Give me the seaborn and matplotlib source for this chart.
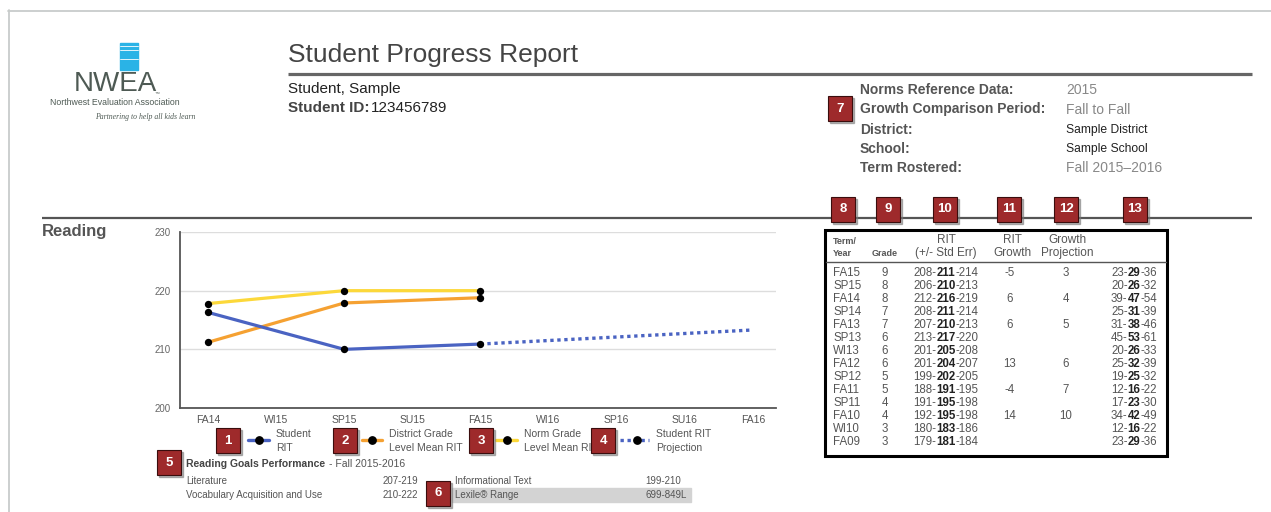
import pandas as pd
import matplotlib
matplotlib.use('Agg')
import matplotlib.pyplot as plt
from matplotlib.patches import Rectangle
import seaborn as sns

#chart data
terms = ['FA14', 'WI15', 'SP15', 'SU15', 'FA15', 'WI16', 'SP16', 'SU16', 'FA16']
tested_terms = ['FA14', 'SP15', 'FA15']
student_rit = [216.3, 210.0, 210.9]
district_mean_rit = [211.2, 217.9, 218.8]
norm_mean_rit = [217.8, 220.0, 220.0]
projection_terms = ['FA15', 'FA16']
projection_rit = [210.9, 213.3]
y_ticks = [200, 210, 220, 230]

#table data
table_terms = ['FA15', 'SP15', 'FA14', 'SP14', 'FA13', 'SP13', 'WI13', 'FA12', 'SP12', 'FA11', 'SP11', 'FA10', 'WI10', 'FA09']
table_grades = [9, 8, 8, 7, 7, 6, 6, 6, 5, 5, 4, 4, 3, 3]
rit_low = [208, 206, 212, 208, 207, 213, 201, 201, 199, 188, 191, 192, 180, 179]
rit_mid = [211, 210, 216, 211, 210, 217, 205, 204, 202, 191, 195, 195, 183, 181]
rit_high = [214, 213, 219, 214, 213, 220, 208, 207, 205, 195, 198, 198, 186, 184]
rit_growth = ['-5', '', '6', '', '6', '', '', '13', '', '-4', '', '14', '', '']
growth_projection = ['3', '', '4', '', '5', '', '', '6', '', '7', '', '10', '', '']
pct_low = [23, 20, 39, 25, 31, 45, 20, 25, 19, 12, 17, 34, 12, 23]
pct_mid = [29, 26, 47, 31, 38, 53, 26, 32, 25, 16, 23, 42, 16, 29]
pct_high = [36, 32, 54, 39, 46, 61, 33, 39, 32, 22, 30, 49, 22, 36]

#header info
info_labels = ['Norms Reference Data:', 'Growth Comparison Period:', 'District:', 'School:', 'Term Rostered:']
info_values = ['2015', 'Fall to Fall', 'Sample District', 'Sample School', 'Fall 2015\u20132016']

#goals
goal_names = ['Literature', 'Vocabulary Acquisition and Use', 'Informational Text', 'Lexile\u00ae Range']
goal_ranges = ['207-219', '210-222', '199-210', '699-849L']

blue = '#4a63c2'
orange = '#f5a132'
yellow = '#fcd83a'

sns.set_style('white')
plt.rcParams['font.family'] = ['Liberation Sans', 'DejaVu Sans']

W, H = 1271, 512
fig = plt.figure(figsize=(W / 100, H / 100), dpi=100)

#line chart
ax = fig.add_axes([180 / W, 1 - 408 / H, 596 / W, 176 / H])
pos = {t: i for i, t in enumerate(terms)}
df = pd.DataFrame({
    'pos': [pos[t] for t in tested_terms] * 3,
    'rit': norm_mean_rit + district_mean_rit + student_rit,
    'series': ['norm'] * 3 + ['district'] * 3 + ['student'] * 3,
})
proj = pd.DataFrame({'pos': [pos[t] for t in projection_terms], 'rit': projection_rit})

sns.lineplot(data=proj, x='pos', y='rit', color=blue, linewidth=2.4,
             linestyle=(0, (1, 1.1)), ax=ax)
sns.lineplot(data=df, x='pos', y='rit', hue='series', linewidth=2.3,
             palette={'norm': yellow, 'district': orange, 'student': blue},
             legend=False, ax=ax)
sns.scatterplot(data=df, x='pos', y='rit', color='black', s=28, linewidth=0,
                zorder=5, ax=ax)

ax.set_xlim(-0.41, 8.34)
ax.set_ylim(200, 230)
ax.set_xticks(range(len(terms)))
ax.set_xticklabels(terms)
ax.set_yticks(y_ticks)
ax.set_xlabel('')
ax.set_ylabel('')
ax.yaxis.grid(True, color='#dddddd', linewidth=1)
ax.set_axisbelow(True)
for s in ['top', 'right']:
    ax.spines[s].set_visible(False)
for s in ['left', 'bottom']:
    ax.spines[s].set_color('#555555')
    ax.spines[s].set_linewidth(1.3)
ax.tick_params(axis='y', length=3, width=0.8, color='#999999', pad=4,
               labelsize=7, labelcolor='#666666')
ax.tick_params(axis='x', length=0, pad=5, labelsize=7.5, labelcolor='#555555')

#page overlay in pixel coordinates
ov = fig.add_axes([0, 0, 1, 1], zorder=5)
ov.set_xlim(0, W)
ov.set_ylim(H, 0)
ov.axis('off')

renderer = fig.canvas.get_renderer()

def text_w(s, **kw):
    t = ov.text(0, 0, s, **kw)
    w = t.get_window_extent(renderer=renderer).width
    t.remove()
    return w

#page border and rules
ov.plot([8, W], [10.5, 10.5], color='#c8cccb', lw=1.3)
ov.plot([8.5, 8.5], [10, H], color='#c8cccb', lw=1.3)
ov.plot([288, 1252], [74, 74], color='#666666', lw=2.3, solid_capstyle='butt')
ov.plot([42, 1252], [217.5, 217.5], color='#555555', lw=1.6, solid_capstyle='butt')

#logo
ov.add_patch(Rectangle((120, 43), 18, 27, color='#2ab3e6'))
for yy in [46, 49.5, 59]:
    ov.plot([120, 138], [yy, yy], color='white', lw=0.6)
ov.text(115, 84, 'NWEA', fontsize=20, color='#4e5a54', ha='center', va='center')
ov.text(155, 93, '\u2122', fontsize=3.5, color='#4e5a54', ha='left', va='center')
ov.text(115, 102.5, 'Northwest Evaluation Association', fontsize=6.3, color='#4e5a54',
        ha='center', va='center')
ov.text(145, 117, 'Partnering to help all kids learn', fontsize=5.6, color='#4e5a54',
        ha='center', va='center', family='Liberation Serif', style='italic')

#title block
ov.text(288, 55, 'Student Progress Report', fontsize=19, color='#444444', va='center')
ov.text(288, 88.5, 'Student, Sample', fontsize=11, color='#222222', va='center')
ov.text(288, 107.5, 'Student ID:', fontsize=11, color='#444444', weight='bold', va='center')
ov.text(371, 107.5, '123456789', fontsize=11, color='#222222', va='center')

info_y = [89.5, 109.5, 129.5, 149, 168.5]
for lab, val, yy in zip(info_labels, info_values, info_y):
    ov.text(860, yy, lab, fontsize=10, color='#555555', weight='bold', va='center')
    if val.startswith('Sample'):
        ov.text(1066, yy, val, fontsize=8.7, color='#222222', va='center')
    else:
        ov.text(1066, yy, val, fontsize=10, color='#888888', va='center')

ov.text(42, 231.5, 'Reading', fontsize=12, color='#555555', weight='bold', va='center')

#legend
leg_items = [(248, 269, blue, '-', 'Student\nRIT'),
             (362, 382, orange, '-', 'District Grade\nLevel Mean RIT'),
             (496, 517, yellow, '-', 'Norm Grade\nLevel Mean RIT'),
             (620, 649, blue, ':', 'Student RIT\nProjection')]
for x0, x1, c, ls, lab in leg_items:
    ov.plot([x0, x1], [440, 440], color=c, lw=2.4, linestyle=ls if ls == '-' else (0, (1, 1.1)))
    ov.scatter([(x0 + x1) / 2 + (2 if ls == ':' else 0)], [440], s=28, color='black', zorder=4)
    ov.text(x1 + 7, 441, lab, fontsize=7.5, color='#555555', va='center', linespacing=1.45)

#goals block
ov.text(186, 464, 'Reading Goals Performance', fontsize=7.5, color='#444444',
        weight='bold', va='center')
ov.text(329, 464, '- Fall 2015-2016', fontsize=7.5, color='#555555', va='center')
ov.add_patch(Rectangle((452, 487.5), 239, 14, color='#d3d3d3', zorder=0))
goal_xy = [(186, 383, 481.5), (186, 383, 494.5), (455, 645, 481.5), (455, 645, 494.5)]
for name, rng, (xn, xr, yy) in zip(goal_names, goal_ranges, goal_xy):
    ov.text(xn, yy, name, fontsize=7, color='#555555', va='center')
    ov.text(xr, yy, rng, fontsize=7, color='#555555', va='center')

#table
ov.add_patch(Rectangle((825, 229.5), 342, 226, fill=False, edgecolor='black', lw=2.2))
ov.plot([826, 1166], [262, 262], color='#555555', lw=1)
hd = dict(color='#555555', va='center', ha='center')
ov.text(833, 241.5, 'Term/', fontsize=6.5, weight='bold', color='#555555', va='center')
ov.text(833, 254, 'Year', fontsize=6.5, weight='bold', color='#555555', va='center')
ov.text(885, 254, 'Grade', fontsize=6.5, weight='bold', **hd)
ov.text(946, 240, 'RIT', fontsize=8.5, **hd)
ov.text(946, 253, '(+/- Std Err)', fontsize=8.5, **hd)
ov.text(1012, 240, 'RIT', fontsize=8.5, **hd)
ov.text(1012, 253, 'Growth', fontsize=8.5, **hd)
ov.text(1067, 240, 'Growth', fontsize=8.5, **hd)
ov.text(1067, 253, 'Projection', fontsize=8.5, **hd)

reg = dict(fontsize=8.3, color='#555555', va='center')
bld = dict(fontsize=8.3, color='#222222', va='center', weight='bold')
for i in range(len(table_terms)):
    yy = 273 + i * 13
    ov.text(833, yy, table_terms[i], ha='left', **reg)
    ov.text(885, yy, str(table_grades[i]), ha='center', **reg)
    mid = str(rit_mid[i])
    wm = text_w(mid, **bld)
    ov.text(946, yy, mid, ha='center', **bld)
    ov.text(946 - wm / 2, yy, '%d-' % rit_low[i], ha='right', **reg)
    ov.text(946 + wm / 2, yy, '-%d' % rit_high[i], ha='left', **reg)
    ov.text(1010, yy, rit_growth[i], ha='center', **reg)
    ov.text(1066, yy, growth_projection[i], ha='center', **reg)
    hi = '-%d' % pct_high[i]
    wr = text_w(hi, **reg)
    pm = str(pct_mid[i])
    wp = text_w(pm, **bld)
    ov.text(1157, yy, hi, ha='right', **reg)
    ov.text(1157 - wr, yy, pm, ha='right', **bld)
    ov.text(1157 - wr - wp, yy, '%d-' % pct_low[i], ha='right', **reg)

#numbered callouts
badges = [(840, 108, '7'), (843, 209, '8'), (888, 209, '9'), (945, 209, '10'),
          (1009, 209, '11'), (1066, 209, '12'), (1135, 209, '13'),
          (228, 440, '1'), (345, 440, '2'), (481, 440, '3'), (603, 440, '4'),
          (169, 462, '5'), (438, 493, '6')]
for cx, cy, lab in badges:
    ov.add_patch(Rectangle((cx - 12 + 2, cy - 12.5 + 2.5), 24, 25, color='#777777',
                           alpha=0.55, zorder=8))
    ov.add_patch(Rectangle((cx - 12, cy - 12.5), 24, 25, facecolor='#9e2a2b',
                           edgecolor='#3a0d0d', lw=0.8, zorder=9))
    ov.text(cx, cy + 0.5, lab, fontsize=9.5, color='white', weight='bold',
            ha='center', va='center', zorder=10)

fig.savefig('out.png', dpi=100)
